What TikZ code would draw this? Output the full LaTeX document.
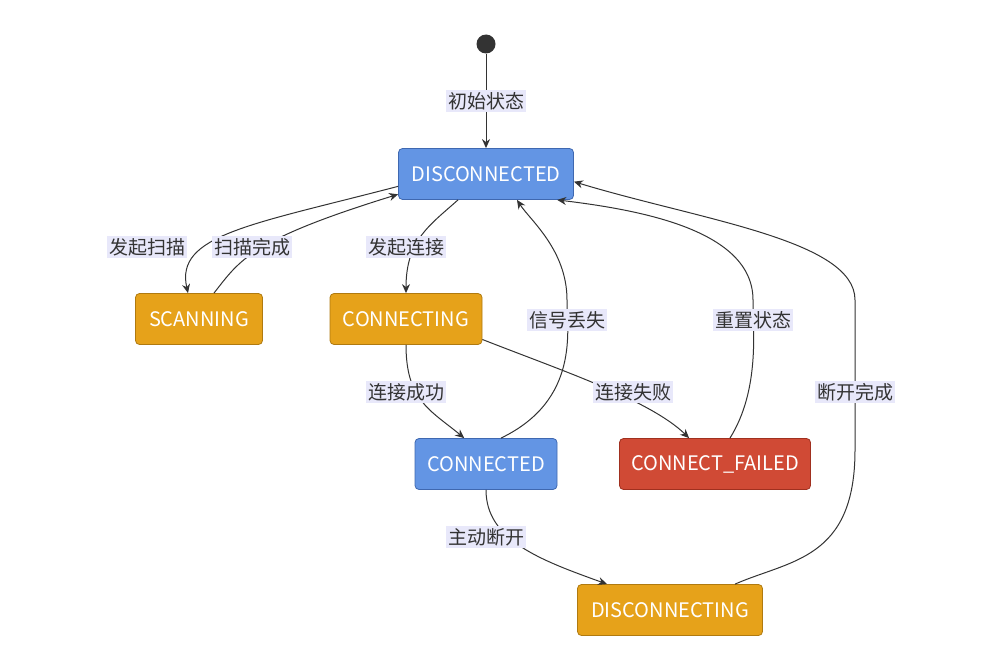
\documentclass[tikz,border=0pt]{standalone}
\usepackage{fontspec}
\setmainfont{Noto Sans CJK SC}
\usetikzlibrary{arrows.meta}
\definecolor{blu}{HTML}{6395E4}
\definecolor{blub}{HTML}{3F68B0}
\definecolor{org}{HTML}{E6A21A}
\definecolor{orgb}{HTML}{B07A10}
\definecolor{rd}{HTML}{D04A35}
\definecolor{rdb}{HTML}{A0301F}
\definecolor{lab}{HTML}{E8E8FA}
\definecolor{ln}{HTML}{333333}
\begin{document}
\begin{tikzpicture}[x=1pt,y=-1pt,
  st/.style={draw,rounded corners=4pt,line width=0.8pt,text=white,font=\fontsize{20}{22}\selectfont,minimum height=51pt,inner xsep=0pt},
  sb/.style={st,fill=blu,draw=blub},
  so/.style={st,fill=org,draw=orgb},
  sr/.style={st,fill=rd,draw=rdb},
  lb/.style={fill=lab,text=ln,font=\fontsize{19}{21}\selectfont,inner sep=2pt},
  ar/.style={draw=ln,line width=1pt,-{Stealth[length=9pt,width=8pt]}}]
\useasboundingbox (0,0) rectangle (1000,650);
\node[circle,fill=ln,minimum size=19pt,inner sep=0] (I) at (486,44) {};
\node[sb,minimum width=175pt] (D) at (486,174) {DISCONNECTED};
\node[so,minimum width=127pt] (S) at (199,319) {SCANNING};
\node[so,minimum width=152pt] (C) at (406,319) {CONNECTING};
\node[sb,minimum width=142pt] (E) at (486,464) {CONNECTED};
\node[sr,minimum width=191pt] (F) at (715,464) {CONNECT\_FAILED};
\node[so,minimum width=185pt] (G) at (670,610) {DISCONNECTING};
\draw[ar] (I) -- (D);
\draw[ar] (D.188) .. controls (250,225) and (175,235) .. (S.113);
\draw[ar] (S.60) .. controls (240,260) and (250,240) .. (D.193);
\draw[ar] ([xshift=-28pt]D.south) .. controls (430,225) and (406,240) .. (C.north);
\draw[ar] (C.south) .. controls (406,400) and (430,410) .. (E.130);
\draw[ar] (C.-15) .. controls (560,370) and (650,400) .. (F.135);
\draw[ar] (E.60) .. controls (580,400) and (567,330) .. (567,300) .. controls (567,250) and (530,220) .. ([xshift=31pt]D.south);
\draw[ar] (F.60) .. controls (760,390) and (753,330) .. (753,300) .. controls (753,230) and (640,210) .. (D.-20);
\draw[ar] ([xshift=65pt]G.north) .. controls (790,560) and (855,560) .. (855,450) -- (855,300) .. controls (855,240) and (700,220) .. (D.-5);
\draw[ar] (E.south) .. controls (486,540) and (540,560) .. ([xshift=-63pt]G.north);
\node[lb] (l1) at (486,101) {初始状态};
\node[lb] (l2) at (147,247) {发起扫描};
\node[lb] (l3) at (252,247) {扫描完成};
\node[lb] (l4) at (406,247) {发起连接};
\node[lb] (l5) at (567,320) {信号丢失};
\node[lb] (l6) at (753,320) {重置状态};
\node[lb] (l7) at (855,392) {断开完成};
\node[lb] (l8) at (406,392) {连接成功};
\node[lb] (l9) at (633,392) {连接失败};
\node[lb] (l10) at (486,537) {主动断开};
\end{tikzpicture}
\end{document}
